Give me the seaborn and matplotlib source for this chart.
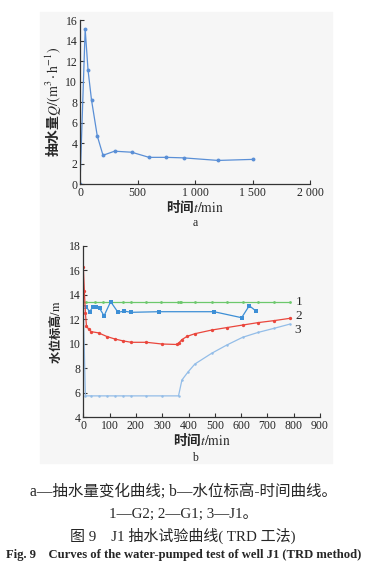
import numpy as np
import pandas as pd
import seaborn as sns
import matplotlib.pyplot as plt
from matplotlib.patches import Rectangle

# --- data ---
# (a) pumped volume vs time
t_q = [0, 45, 70, 100, 150, 200, 300, 450, 600, 750, 900, 1200, 1500]
q = [0, 15.1, 11.1, 8.2, 4.7, 2.8, 3.2, 3.1, 2.6, 2.6, 2.55, 2.3, 2.4]

# (b) water level vs time
t_g2 = [0, 11, 43, 75, 106, 150, 182, 240, 297, 360, 366, 373, 423, 488, 545, 606, 665, 725, 786]
h_g2 = [13.4] * len(t_g2)

t_g1 = [0, 4, 8, 12, 20, 30, 58, 90, 120, 150, 182, 240, 299, 358, 362, 375, 395, 424,
        488, 545, 606, 665, 725, 786]
h_g1 = [16.3, 14.3, 12.5, 11.5, 11.2, 11.0, 10.9, 10.6, 10.4, 10.25, 10.13, 10.13, 9.99,
        9.95, 10.05, 10.35, 10.62, 10.83, 11.13, 11.33, 11.54, 11.74, 11.9, 12.09]

t_j1 = [0, 8, 30, 58, 90, 120, 150, 182, 240, 299, 362, 375, 398, 424, 488, 545, 606, 665, 725, 786]
h_j1 = [13.0, 5.75, 5.75, 5.75, 5.75, 5.75, 5.75, 5.75, 5.75, 5.75, 5.75, 7.05, 7.7, 8.35,
        9.23, 9.9, 10.54, 10.94, 11.27, 11.62]

t_w = [11, 24, 37, 49, 62, 79, 104, 132, 155, 182, 288, 497, 602, 631, 657]
h_w = [13.04, 12.63, 13.04, 13.04, 12.9, 12.3, 13.45, 12.58, 12.68, 12.58, 12.63, 12.63,
       12.14, 13.12, 12.68]

x_ticks_a = [0, 500, 1000, 1500, 2000]
x_ticklabels_a = ['0', '500', '1 000', '1 500', '2 000']

sns.set_theme(style='white')
plt.rcParams['font.family'] = ['Liberation Serif', 'Noto Sans CJK SC']
plt.rcParams['mathtext.fontset'] = 'stix'
plt.rcParams['axes.unicode_minus'] = False
plt.rcParams['xtick.direction'] = 'in'
plt.rcParams['ytick.direction'] = 'in'

fig = plt.figure(figsize=(3.66, 5.81), dpi=100)
fig.patches.append(Rectangle((40 / 366, 1 - 463 / 581), 292 / 366, 451 / 581,
                             transform=fig.transFigure, color='#f6f6f6', zorder=-1))

# CJK part in bold sans, Latin part through mathtext (serif)
lab_font = dict(family='Noto Sans CJK SC', fontweight='bold')


def style_axes(ax):
    ax.set_facecolor('none')
    for s in ['top', 'right']:
        ax.spines[s].set_visible(False)
    for s in ['left', 'bottom']:
        ax.spines[s].set_color('#333333')
        ax.spines[s].set_linewidth(0.9)
    ax.tick_params(axis='both', which='major', length=3, width=0.8, color='#333333',
                   labelsize=8.5, pad=2, left=True, bottom=True)


# (a)
ax1 = fig.add_axes([80 / 366, 1 - 184 / 581, 230 / 366, 164 / 581])
df_a = pd.DataFrame({'t': t_q, 'Q': q})
sns.lineplot(data=df_a, x='t', y='Q', ax=ax1, color='#5a8fd6', lw=0.9,
             marker='o', markersize=2.8, markeredgewidth=0, estimator=None, sort=False)
ax1.set_xlim(0, 2000)
ax1.set_ylim(0, 16)
ax1.set_xticks(x_ticks_a)
ax1.set_xticklabels(x_ticklabels_a)
ax1.set_yticks(np.arange(0, 17, 2))
style_axes(ax1)
ax1.set_xlabel('时间$t\\mathrm{/min}$', fontsize=9.8, **lab_font, labelpad=0)
ax1.set_ylabel('抽水量$Q\\mathrm{/(m^{3}\\cdot h^{-1})}$', fontsize=10, **lab_font, labelpad=1)
fig.text(195 / 366, 1 - 223 / 581, 'a', ha='center', va='center', fontsize=8.5)

# (b)
ax2 = fig.add_axes([83.3 / 366, 1 - 417.3 / 581, 236.7 / 366, 171.3 / 581])
series = [
    (t_g2, h_g2, '#6cc86c', 'o', 2.0, 0.9),
    (t_w, h_w, '#3d8fd6', 's', 2.8, 0.9),
    (t_g1, h_g1, '#ea463c', 'o', 2.4, 0.9),
    (t_j1, h_j1, '#93bde8', 'o', 1.8, 0.9),
]
for tt, hh, c, m, ms, lw in series:
    d = pd.DataFrame({'t': tt, 'h': hh})
    sns.lineplot(data=d, x='t', y='h', ax=ax2, color=c, lw=lw, marker=m,
                 markersize=ms, markeredgewidth=0, estimator=None, sort=False)
ax2.set_xlim(0, 900)
ax2.set_ylim(4, 18)
ax2.set_xticks(np.arange(0, 901, 100))
ax2.set_yticks(np.arange(4, 19, 2))
style_axes(ax2)
ax2.set_xlabel('时间$t\\mathrm{/min}$', fontsize=9.8, **lab_font, labelpad=0)
ax2.set_ylabel('水位标高$\\mathrm{/m}$', fontsize=8.8, **lab_font, labelpad=4)
ax2.text(808, 13.4, '1', fontsize=9.5, va='center', ha='left')
ax2.text(806, 12.3, '2', fontsize=9.5, va='center', ha='left')
ax2.text(804, 11.15, '3', fontsize=9.5, va='center', ha='left')
fig.text(195 / 366, 1 - 458 / 581, 'b', ha='center', va='center', fontsize=8.5)

# captions
cap = dict(family=['Liberation Serif', 'Noto Sans CJK SC'], ha='center', va='center')
fig.text(183 / 366, 1 - 492 / 581, 'a—抽水量变化曲线; b—水位标高-时间曲线。', fontsize=11.2, **cap)
fig.text(183 / 366, 1 - 514 / 581, '1—G2; 2—G1; 3—J1。', fontsize=10.8, **cap)
fig.text(183 / 366, 1 - 536 / 581, '图 9    J1 抽水试验曲线( TRD 工法)', fontsize=10.8, **cap)
fig.text(184 / 366, 1 - 555 / 581, 'Fig. 9    Curves of the water-pumped test of well J1 (TRD method)',
         fontsize=9.1, fontweight='bold', **cap)

fig.savefig('out.png', dpi=100)
